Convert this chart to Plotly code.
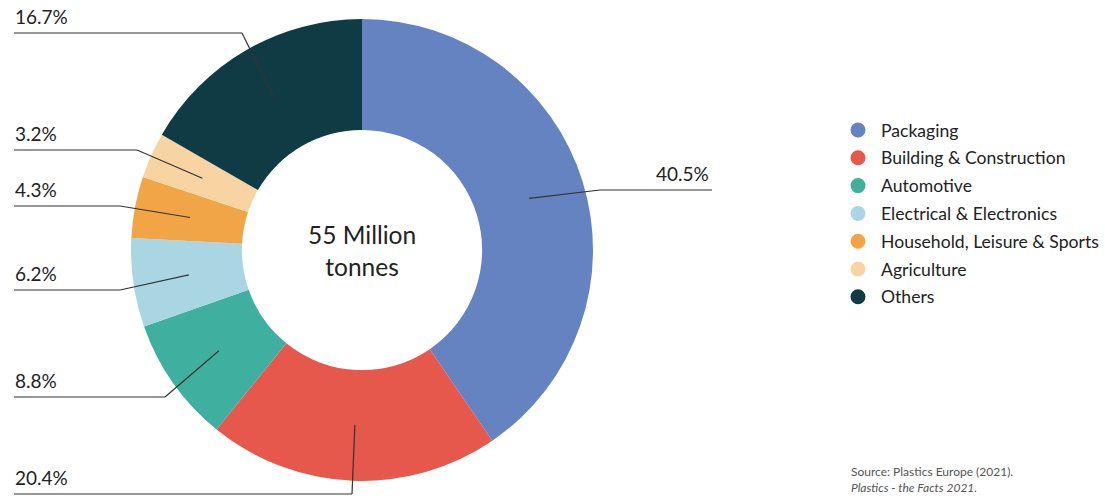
import math
import plotly.graph_objects as go

categories = ["Packaging", "Building & Construction", "Automotive",
              "Electrical & Electronics", "Household, Leisure & Sports",
              "Agriculture", "Others"]
shares = [40.5, 20.4, 8.8, 6.2, 4.3, 3.2, 16.7]
colors = ["#6683C1", "#E5584B", "#3FAF9F", "#A9D6E2", "#F2A547", "#F8D4A3", "#0F3C44"]
center_text = "55 Million<br>tonnes"
source_line1 = "Source: Plastics Europe (2021)."
source_line2 = "<i>Plastics - the Facts 2021.</i>"

W, H = 1105, 498
FONT = "Lato"
TEXT = "#222222"

# geometry of the donut (pixels)
cx, cy, R_out = 362, 250, 231
hole = 0.52
r_anchor = 175

# label layout: (side, label-line y, elbow x)
label_layout = {
    "Packaging": ("right", 190, 600),
    "Building & Construction": ("left", 494, 352),
    "Automotive": ("left", 397, 165),
    "Electrical & Electronics": ("left", 290, 120),
    "Household, Leisure & Sports": ("left", 206, 120),
    "Agriculture": ("left", 150, 137),
    "Others": ("left", 33, 242),
}

# legend layout (pixels)
leg_marker_x, leg_text_x, leg_y0, leg_dy, leg_r = 858, 879, 130, 27.8, 7.5


def px(x):
    return x / W


def py(y):
    return 1 - y / H


fig = go.Figure()
fig.add_trace(go.Pie(
    labels=categories, values=shares, sort=False, direction="clockwise",
    rotation=0, hole=hole, textinfo="none", showlegend=False,
    marker=dict(colors=colors, line=dict(width=0)),
    domain=dict(x=[px(cx - R_out), px(cx + R_out)],
                y=[py(cy + R_out), py(cy - R_out)]),
    hoverinfo="label+percent",
))

total = sum(shares)
cum = 0
shapes, annotations = [], []
for name, v in zip(categories, shares):
    mid = (cum + v / 2) / total * 2 * math.pi
    cum += v
    ax = cx + r_anchor * math.sin(mid)
    ay = cy - r_anchor * math.cos(mid)
    side, ly, ex = label_layout[name]
    if side == "left":
        xs = [ax, ex, 14]
        tx, xanchor = 13, "left"
    else:
        xs = [ax, ex, 712]
        tx, xanchor = 711, "right"
    ys = [ay, ly, ly]
    for i in range(2):
        shapes.append(dict(type="line", xref="paper", yref="paper",
                           x0=px(xs[i]), y0=py(ys[i]),
                           x1=px(xs[i + 1]), y1=py(ys[i + 1]),
                           line=dict(color="#333333", width=1.2), layer="above"))
    annotations.append(dict(x=px(tx), y=py(ly - 3), xref="paper", yref="paper",
                            text=f"{v}%", showarrow=False, xanchor=xanchor,
                            yanchor="bottom",
                            font=dict(family=FONT, size=19, color=TEXT)))

# legend drawn by hand (circle swatches + text)
for i, (name, col) in enumerate(zip(categories, colors)):
    yy = leg_y0 + i * leg_dy
    shapes.append(dict(type="circle", xref="paper", yref="paper",
                       x0=px(leg_marker_x - leg_r), x1=px(leg_marker_x + leg_r),
                       y0=py(yy + leg_r), y1=py(yy - leg_r),
                       fillcolor=col, line=dict(width=0)))
    annotations.append(dict(x=px(leg_text_x), y=py(yy), xref="paper", yref="paper",
                            text=name, showarrow=False, xanchor="left",
                            yanchor="middle",
                            font=dict(family=FONT, size=17.6, color=TEXT)))

annotations.append(dict(x=px(cx), y=py(cy), xref="paper", yref="paper",
                        text=center_text,
                        showarrow=False, xanchor="center", yanchor="middle",
                        font=dict(family=FONT, size=24.5, color=TEXT)))
annotations.append(dict(x=px(849), y=py(462), xref="paper", yref="paper",
                        text=source_line1 + "<br>" + source_line2,
                        showarrow=False, xanchor="left", yanchor="top", align="left",
                        font=dict(family=FONT, size=12, color="#555555")))

fig.update_layout(
    width=W, height=H, margin=dict(l=0, r=0, t=0, b=0, autoexpand=False),
    paper_bgcolor="white", plot_bgcolor="rgba(0,0,0,0)",
    showlegend=False,
    shapes=shapes, annotations=annotations,
    font=dict(family=FONT),
)

fig.write_html("out.html")
